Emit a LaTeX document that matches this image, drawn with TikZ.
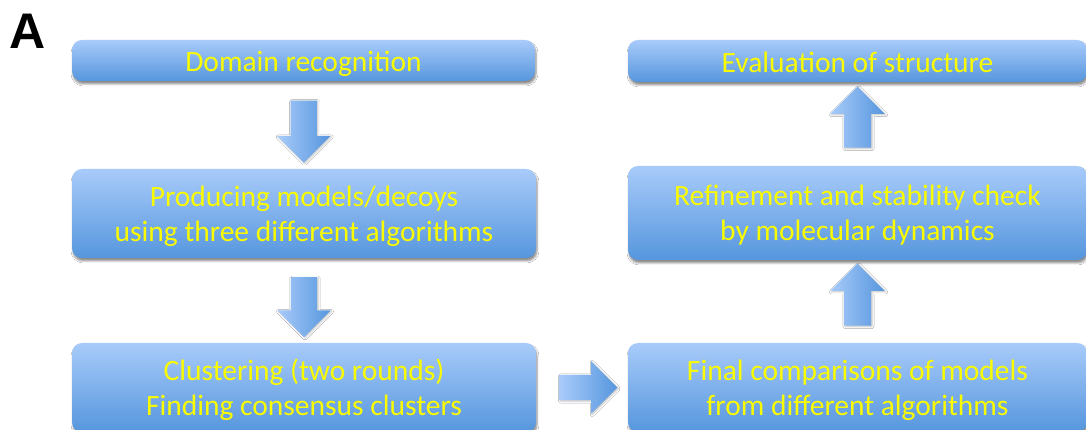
\documentclass[tikz,border=0pt]{standalone}
\usepackage{fontspec}
\setmainfont{Carlito}
\newfontfamily\labelfont{Liberation Sans}
\usetikzlibrary{calc,positioning,shapes.arrows,shadows.blur}
\definecolor{boxtop}{RGB}{168,203,250}
\definecolor{boxbottom}{RGB}{86,150,221}
\definecolor{textyellow}{RGB}{250,250,0}
\tikzset{stage/.style={rectangle, rounded corners=10pt, top color=boxtop, bottom color=boxbottom,
         draw=none, text=textyellow, align=center, inner sep=0pt, text depth=6pt,
         font=\fontsize{29.5}{35}\selectfont, execute at begin node={\rule{0pt}{29pt}},
         blur shadow={shadow xshift=1pt, shadow yshift=-3pt, shadow blur steps=6, shadow opacity=45}},
         twolines/.style={text depth=-8pt},
         blockarrow/.style={single arrow, draw=none, inner xsep=0pt, inner ysep=13pt, left color=boxtop, right color=boxbottom,
         minimum height=#1, single arrow head extend=13.5pt,
         blur shadow={shadow xshift=1pt, shadow yshift=-1pt, shadow blur steps=4, shadow opacity=25}},
         blockarrow/.default={62pt}}

\begin{document}
\begin{tikzpicture}[x=1pt,y=1pt]
  \clip (0,0) rectangle (1086,430);
  \fill[white] (0,0) rectangle (1086,430);
  \node[font=\labelfont\bfseries\fontsize{50}{50}\selectfont] (panel) at (27.5,398.5) {A};
  % left column
  \node[stage, minimum width=463pt, minimum height=41pt] (domain) at (303.5,369.5) {Domain recognition};
  \node[stage, twolines, minimum width=464pt, minimum height=89pt] (models) at (304,216.5) {Producing models/decoys\\using three different algorithms};
  \node[stage, twolines, minimum width=464pt, minimum height=89pt] (cluster) at (304,42.5) {Clustering (two rounds)\\Finding consensus clusters};
  % right column
  \node[stage, twolines, minimum width=459pt, minimum height=89pt] (final) at (857.5,42.5) {Final comparisons of models\\from different algorithms};
  \node[stage, twolines, minimum width=459pt, minimum height=94pt] (refine) at (857.5,217) {Refinement and stability check\\by molecular dynamics};
  \node[stage, minimum width=459pt, minimum height=42pt] (eval) at (857.5,369) {Evaluation of structure};
  % block arrows
  \node[blockarrow, rotate=-90] (a1) at ($(domain.south)!0.5!(models.north)$) {};
  \node[blockarrow=60pt, rotate=-90] (a2) at ($(models.south)!0.5!(cluster.north)$) {};
  \node[blockarrow=58pt, inner ysep=12.5pt] (a3) at ($(cluster.east)!0.5!(final.west)$) {};
  \node[blockarrow, inner ysep=13.5pt, rotate=90] (a4) at ($(final.north)!0.5!(refine.south)$) {};
  \node[blockarrow=61pt, inner ysep=13.5pt, rotate=90] (a5) at ($(refine.north)!0.5!(eval.south)$) {};
\end{tikzpicture}
\end{document}
